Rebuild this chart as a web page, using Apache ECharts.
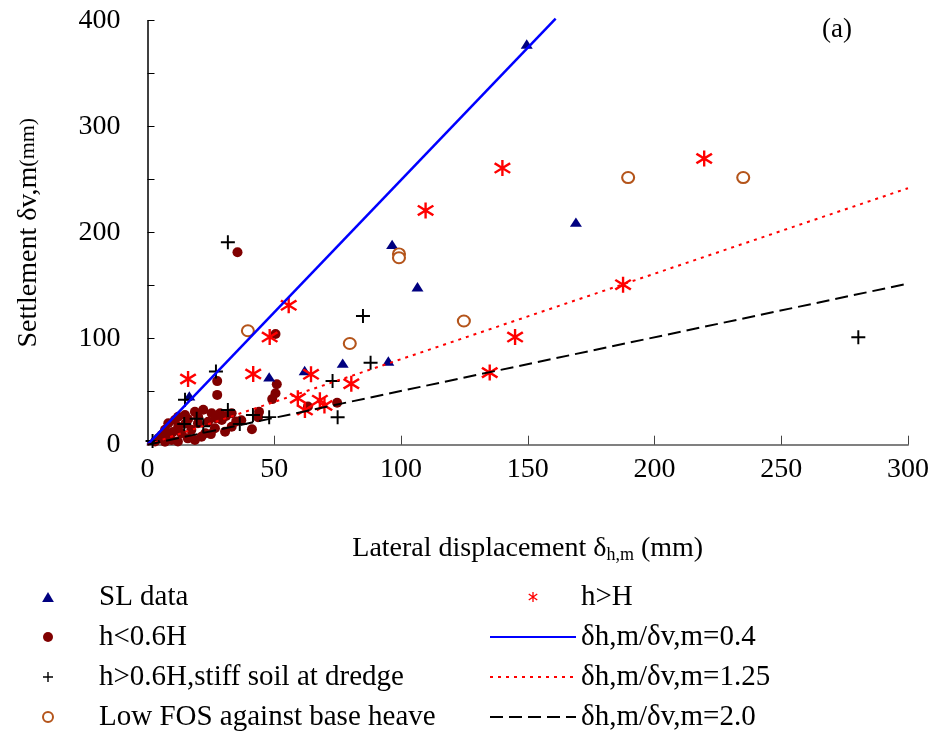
<!DOCTYPE html>
<html>
<head>
<meta charset="utf-8">
<script src="https://cdn.jsdelivr.net/npm/echarts@6/dist/echarts.min.js"></script>
<style>html,body{margin:0;padding:0;background:#fff;}#c{width:948px;height:734px;}</style>
</head>
<body>
<div id="c"></div>
<script>
// ---- data ----
var slData = [[16.5,46],[48,64],[62,70],[77,77],[95,79],[96.5,189],[106.5,149],[169,210],[149.6,378]];
var hLow = [[35.5,181.5],[50.5,104.5],[27.5,60],[27.5,47],[51,57],[50.5,48.5],[49.2,43],[74.8,39.6],[63.3,36],
  [44,31],[43.6,26],[41.2,14.5],[37,23],[35,22],
  [18.7,31],[22,33],[25.3,29.6],[14.8,28],[28.6,29.6],[33.2,29.6],[10.8,23.3],[8.2,20.2],[6.9,14],[5.6,9.2],
  [4.3,6],[12.1,17],[13.4,10.8],[9.5,4.4],[15.9,6],[19.9,20.2],[23.9,21.7],[26.6,15.5],[21.3,7.5],[30.6,12.3],
  [29.3,23.3],[33.2,17],[17.3,14],[12.1,26.4],[18.7,4.4],[22.8,10.8],[6.9,2.8],[10,12],[15,20],[8,9],[20,26],
  [25,10],[12,3],[3,3],[16,24],[27,25],[31,27]];
var hHighStiff = [[31.7,191],[85,121.4],[88,77.4],[73,60],[27,69],[14.8,42.5],[31.7,32.7],[41.6,28],[48,26],
  [36.4,19.5],[14.5,19.5],[19.4,24.5],[22,17.5],[75,25.8],[280.4,101.3],[2,3.5]];
var lowFOS = [[39.6,107.5],[79.8,95.5],[99.2,180],[99.2,176.4],[124.8,116.7],[189.6,252],[235,252]];
var hGtH = [[16,62],[41.7,66.7],[48.2,101.5],[55.7,131.5],[64.5,66.4],[80.4,57.5],[59.3,43.8],[62.1,32.7],
  [68,42],[69.8,37],[109.7,221],[140,261],[145,101.5],[135,68],[187.6,151],[219.6,270]];
var line04 = [[0,0],[161,402]];
var line125 = [[0,0],[300,242]];
var line20 = [[0,0],[300,152]];
var seriesNames = ['SL data','h<0.6H','h>0.6H,stiff soil at dredge','Low FOS against base heave',
  'h>H','δh,m/δv,m=0.4','δh,m/δv,m=1.25','δh,m/δv,m=2.0'];
var xTicks = {min:0, max:300, interval:50};
var yTicks = {min:0, max:400, interval:50, labelEvery:100};

var FONT = '"Liberation Serif","Times New Roman",serif';
var triPath = 'path://M10 0 L20 17 L0 17 Z';
var plusPath = 'path://M8.6 0 L11.4 0 L11.4 20 L8.6 20 Z M0 8.6 L20 8.6 L20 11.4 L0 11.4 Z';
var starPath = 'path://M8.7 0 L11.3 0 L11.3 20 L8.7 20 Z M2.3 2.8 L19.3 14.8 L17.7 17.2 L0.7 5.2 Z M17.7 2.8 L19.3 5.2 L2.3 17.2 L0.7 14.8 Z';

var legendText = {fontFamily:FONT, fontSize:29, color:'#000', lineHeight:30};
var hideSym = {opacity:0};

var chart = echarts.init(document.getElementById('c'), null, {renderer:'canvas'});
chart.setOption({
  backgroundColor:'#fff',
  animation:false,
  grid:{left:147.5, right:40, top:20.7, bottom:289.3, containLabel:false},
  xAxis:{
    type:'value', min:xTicks.min, max:xTicks.max, interval:xTicks.interval,
    name:'{a|Lateral displacement δ}{s|h,m}{a| (mm)}', nameLocation:'middle', nameGap:88,
    nameTextStyle:{rich:{
      a:{fontFamily:FONT, fontSize:28, color:'#000', lineHeight:32},
      s:{fontFamily:FONT, fontSize:18, color:'#000', lineHeight:18, verticalAlign:'bottom'}
    }},
    axisLine:{show:true, lineStyle:{color:'#808080', width:2}},
    axisTick:{show:true, inside:true, length:9, lineStyle:{color:'#444', width:1}},
    axisLabel:{fontFamily:FONT, fontSize:28, color:'#000', margin:11},
    splitLine:{show:false}
  },
  yAxis:{
    type:'value', min:yTicks.min, max:yTicks.max, interval:yTicks.interval,
    name:'{a|Settlement δv,m}{b|(mm)}', nameLocation:'middle', nameGap:104, nameRotate:90,
    nameTextStyle:{rich:{
      a:{fontFamily:FONT, fontSize:28, color:'#000', lineHeight:30},
      b:{fontFamily:FONT, fontSize:22, color:'#000', lineHeight:30}
    }},
    axisLine:{show:true, lineStyle:{color:'#000', width:1.5}},
    axisTick:{show:true, inside:true, length:7, lineStyle:{color:'#000', width:1}},
    axisLabel:{fontFamily:FONT, fontSize:28, color:'#000', margin:27,
      formatter:function(v){return v % yTicks.labelEvery === 0 ? String(v) : '';}},
    splitLine:{show:false}
  },
  legend:[
    {orient:'vertical', left:42, top:582, padding:0, itemWidth:92, itemHeight:10, itemGap:10,
     data:seriesNames.slice(0,4), selectedMode:false, textStyle:legendText},
    {orient:'vertical', left:489, top:582, padding:0, itemWidth:86, itemHeight:10, itemGap:10,
     data:[{name:seriesNames[4]},
           {name:seriesNames[5], itemStyle:hideSym},
           {name:seriesNames[6], itemStyle:hideSym},
           {name:seriesNames[7], itemStyle:hideSym}],
     selectedMode:false, textStyle:legendText}
  ],
  graphic:[{type:'text', left:822, top:16, style:{text:'(a)', font:'27px "Liberation Serif", serif', fill:'#000'}}],
  series:[
    {name:seriesNames[0], type:'scatter', data:slData, symbol:triPath, symbolSize:[12,11], symbolKeepAspect:true,
     itemStyle:{color:'#000080', opacity:1}, z:3},
    {name:seriesNames[1], type:'scatter', data:hLow, symbol:'circle', symbolSize:10,
     itemStyle:{color:'#800000', opacity:1}, z:2},
    {name:seriesNames[2], type:'scatter', data:hHighStiff, symbol:plusPath, symbolSize:[14,14],
     itemStyle:{color:'#000', opacity:1}, z:4},
    {name:seriesNames[3], type:'scatter', data:lowFOS, symbol:'emptyCircle', symbolSize:[12,11],
     itemStyle:{color:'#B4541A', borderWidth:2, opacity:1}, z:3},
    {name:seriesNames[4], type:'scatter', data:hGtH, symbol:starPath, symbolSize:[17,16],
     itemStyle:{color:'#FF0000', opacity:1}, z:4},
    {name:seriesNames[5], type:'line', data:line04, symbol:'none', showSymbol:false, clip:false,
     lineStyle:{color:'#0000FF', width:2.5, type:'solid'}, itemStyle:{color:'#0000FF'}, z:5},
    {name:seriesNames[6], type:'line', data:line125, symbol:'none', showSymbol:false,
     lineStyle:{color:'#FF0000', width:2, type:[3,5]}, itemStyle:{color:'#FF0000'}, z:5},
    {name:seriesNames[7], type:'line', data:line20, symbol:'none', showSymbol:false,
     lineStyle:{color:'#000', width:2, type:[13,6]}, itemStyle:{color:'#000'}, z:5}
  ]
});
</script>
</body>
</html>
